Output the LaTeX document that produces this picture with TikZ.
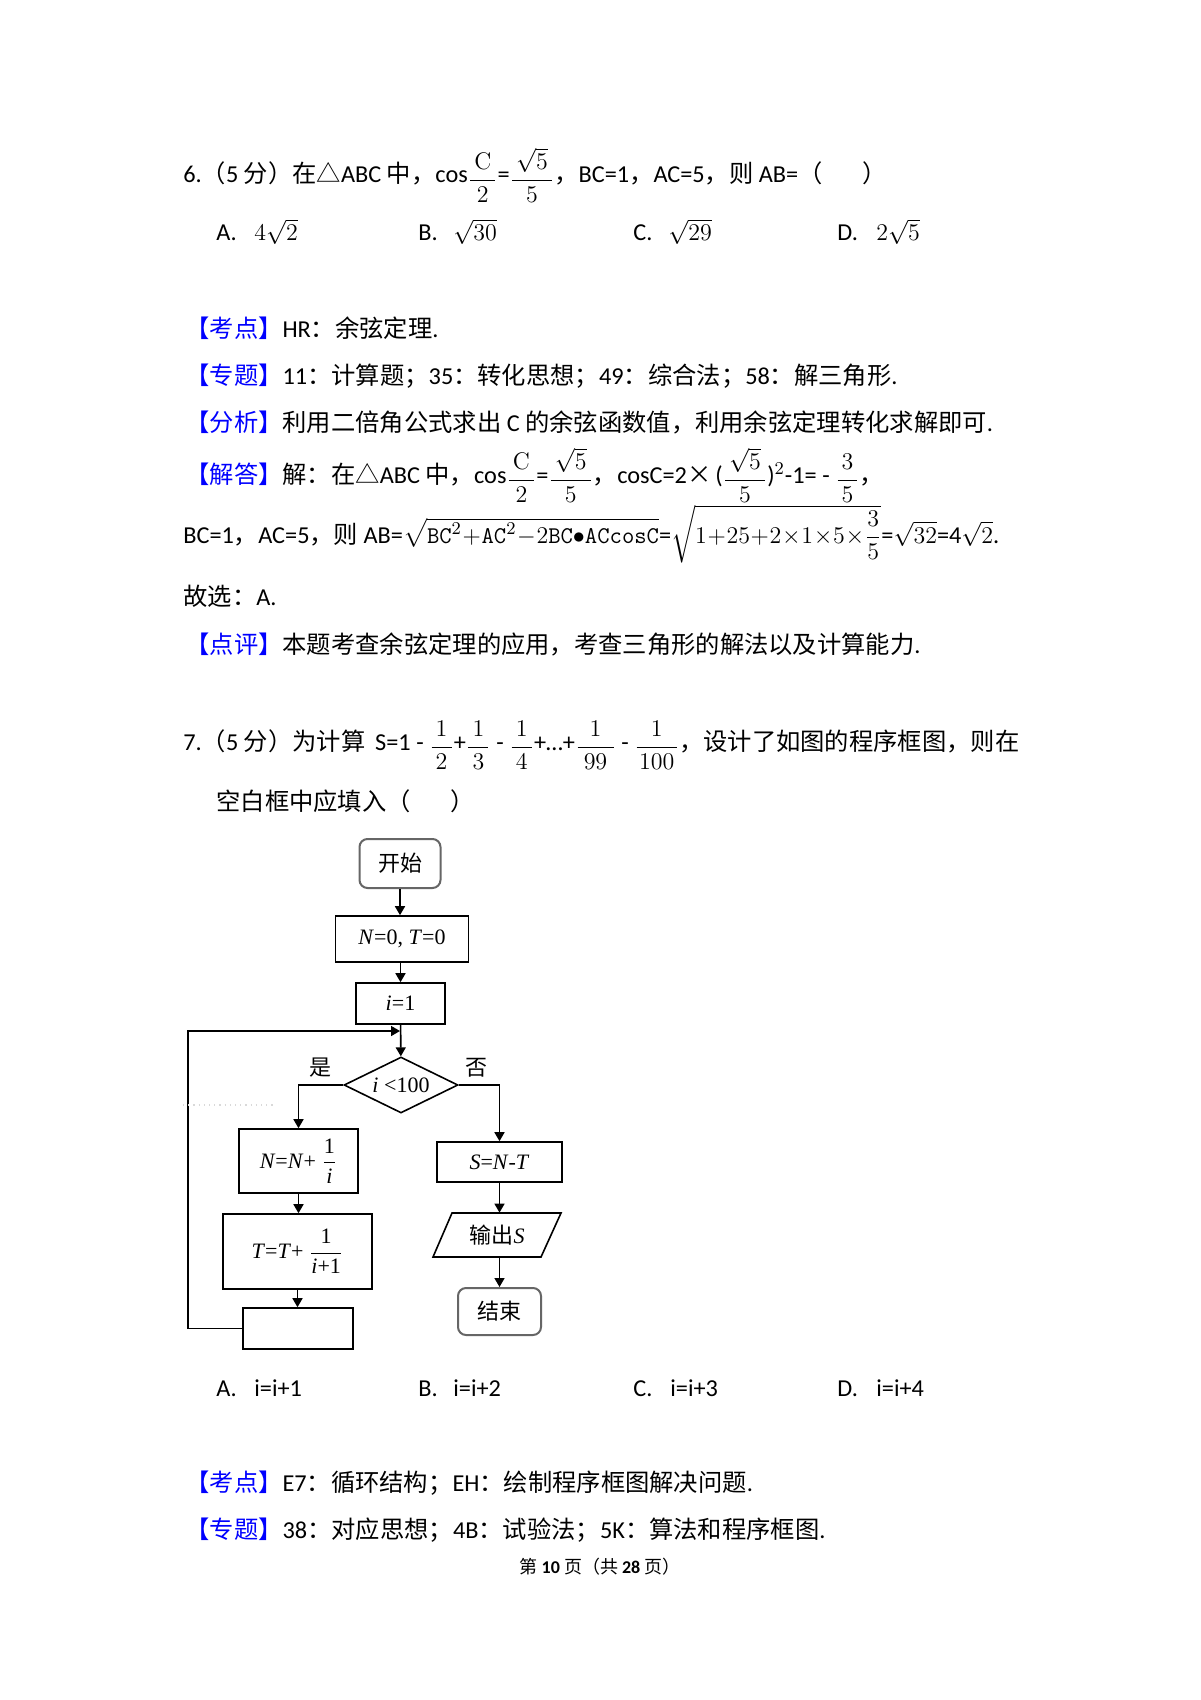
\documentclass[tikz,border=0pt]{standalone}
\usepackage[no-math]{fontspec}
\usepackage{amsmath}
\setmainfont{Carlito}
\newfontfamily\cjk{Noto Sans CJK SC}
\newfontfamily\tms{Liberation Serif}
\usetikzlibrary{arrows.meta,shapes.geometric}
\definecolor{kblue}{RGB}{0,0,255}
\newcommand\z[1]{{\cjk #1}}
\newcommand\hd[1]{\textcolor{kblue}{\z{【#1】}}}
\newcommand\fr[2]{\raisebox{-1.5pt}{$\dfrac{\mkern3mu#1\mkern3mu}{#2}$}}
\newcommand\frb[3]{\raisebox{-1.5pt}{$\dfrac{\makebox[#1]{$#2$}}{#3}$}}
\begin{document}
\begin{tikzpicture}[x=0.5pt,y=-0.5pt,
  txt/.style={anchor=base west,inner sep=0pt,font=\fontsize{12.15}{14.4}\selectfont},
  box/.style={draw,line width=0.8pt,inner sep=1pt,font=\tms\fontsize{11}{13}\selectfont},
  term/.style={draw=black!60,line width=1pt,rounded corners=4pt,inner sep=1pt,font=\cjk\fontsize{11}{13}\selectfont},
  lbl/.style={inner sep=0pt,font=\cjk\fontsize{11}{13}\selectfont},
  arr/.style={line width=0.8pt,-{Triangle[length=4.5pt,width=5pt]}},
  ln/.style={line width=0.8pt}]
\useasboundingbox (0,0) rectangle (1200,1700);
\fill[white] (0,0) rectangle (1200,1700);

% ---------- question 6 ----------
\node[txt] (q6) at (183,183) {6.\z{（}5 \z{分）在△}ABC \z{中，}cos\fr{\mathrm{C}}{2}=\fr{\sqrt{5}}{5}\z{，}BC=1\z{，}AC=5\z{，则} AB=\z{（}\hspace{20pt}\z{）}};
\node[txt] (a6A) at (216,241) {A.};
\node[txt] (a6Av) at (254,241) {$4\sqrt{2}$};
\node[txt] (a6B) at (418,241) {B.};
\node[txt] (a6Bv) at (453,241) {$\sqrt{30}$};
\node[txt] (a6C) at (633,241) {C.};
\node[txt] (a6Cv) at (668,241) {$\sqrt{29}$};
\node[txt] (a6D) at (837,241) {D.};
\node[txt] (a6Dv) at (876,241) {$2\sqrt{5}$};

\node[txt] (kd1) at (185,338) {\hd{考点}HR\z{：余弦定理}.};
\node[txt] (zt1) at (185,385) {\hd{专题}11\z{：计算题；}35\z{：转化思想；}49\z{：综合法；}58\z{：解三角形}.};
\node[txt] (fx1) at (185,431) {\hd{分析}\z{利用二倍角公式求出} C \z{的余弦函数值，利用余弦定理转化求解即可}.};
\node[txt] (jd1) at (185,483) {\hd{解答}\z{解：在△}ABC \z{中，}cos\fr{\mathrm{C}}{2}=\fr{\sqrt{5}}{5}\z{，}cosC=2\z{×}\,(\fr{\sqrt{5}}{5})$^{2}$-1= - \fr{3}{5}\z{，}};
\node[txt] (jd2) at (183,543) {BC=1\z{，}AC=5\z{，则} AB=$\medmuskip=0.5mu\sqrt{\mathtt{BC}^2+\mathtt{AC}^2-2\mathtt{BC}{\bullet}\mathtt{ACcosC}}$=$\medmuskip=0.5mu\sqrt{1+25+2\times1\times5\times\dfrac{3}{5}}$=$\sqrt{32}$=4$\sqrt{2}$.};
\node[txt] (gx) at (183,605) {\z{故选：}A.};
\node[txt] (dp) at (185,653) {\hd{点评}\z{本题考查余弦定理的应用，考查三角形的解法以及计算能力}.};

% ---------- question 7 ----------
\node[txt] (q7) at (183,750) {7.\z{（}5 \z{分）为计算}\hspace{0.4em}S=1 - \frb{10pt}{1}{2}+\frb{10pt}{1}{3} - \frb{10pt}{1}{4}+…+\frb{18pt}{1}{99} - \frb{20pt}{1}{100}\z{，设计了如图的程序框图，则在}};
\node[txt] (q7b) at (216,810) {\z{空白框中应填入（}\hspace{20pt}\z{）}};

% ---------- flowchart ----------
\node[term,minimum width=40.5pt,minimum height=24.5pt] (start) at (400,863.5) {开始};
\node[box,minimum width=66.5pt,minimum height=23pt] (init) at (402,939) {\textit{N}=0, \textit{T}=0};
\node[box,minimum width=44.5pt,minimum height=20.5pt] (ione) at (400.5,1003.5) {\textit{i}=1};
\node[diamond,draw,line width=0.8pt,inner sep=0pt,minimum width=57pt,minimum height=28pt] (cond) at (401,1085) {};
\node[inner sep=0pt,font=\tms\fontsize{11}{13}\selectfont] (condt) at (cond.center) {\textit{i} <100};
\node[lbl] (yes) at (320,1068) {是};
\node[lbl] (no) at (476,1068) {否};
\node[box,minimum width=59.5pt,minimum height=32pt] (upN) at (298.5,1161) {\textit{N}=\textit{N}+ $\dfrac{\text{1}}{\text{\textit{i}}}$};
\node[box,minimum width=74.5pt,minimum height=37.5pt] (upT) at (297.5,1251.5) {\textit{T}=\textit{T}+ $\dfrac{\text{1}}{\text{\textit{i}+1}}$};
\node[box,minimum width=55pt,minimum height=20.5pt] (blank) at (298,1328.5) {};
\node[box,minimum width=62.5pt,minimum height=20pt] (calcS) at (499.5,1162) {\textit{S}=\textit{N}-\textit{T}};
\node[inner sep=0pt,minimum width=45pt,minimum height=22pt,font=\fontsize{11}{13}\selectfont] (outS) at (497,1235) {\z{输出}{\tms\textit{S}}};
\draw[ln] (452,1213) -- (561,1213) -- (541,1257) -- (433,1257) -- cycle;
\node[term,minimum width=41.5pt,minimum height=23.5pt] (stop) at (499.5,1311.5) {结束};

\coordinate (lpL) at (188,1031);
\coordinate (lpJ) at (400,1031);
\draw[arr] (start) -- (start |- init.north);
\draw[arr] (init.south -| ione.north) -- (ione.north);
\draw[arr] (ione) -- (cond);
\draw[arr] (blank.west) -| (lpL) -- (lpJ);
\draw[arr] (cond.west) -| (upN.north);
\draw[arr] (cond.east) -| (calcS.north);
\draw[arr] (upN.south) -- (upN.south |- upT.north);
\draw[arr] (upT.south) -- (upT.south |- blank.north);
\draw[arr] (calcS.south) -- (calcS.south |- outS.north);
\draw[arr] (stop.north |- outS.south) -- (stop.north);
\draw[gray!30,dotted,line width=0.6pt] (183,1105) -- (275,1105);

% ---------- answers 7 ----------
\node[txt] (a7A) at (216,1396) {A.};
\node[txt] (a7Av) at (254,1396) {i=i+1};
\node[txt] (a7B) at (418,1396) {B.};
\node[txt] (a7Bv) at (453,1396) {i=i+2};
\node[txt] (a7C) at (633,1396) {C.};
\node[txt] (a7Cv) at (670,1396) {i=i+3};
\node[txt] (a7D) at (837,1396) {D.};
\node[txt] (a7Dv) at (876,1396) {i=i+4};

\node[txt] (kd2) at (185,1491) {\hd{考点}E7\z{：循环结构；}EH\z{：绘制程序框图解决问题}.};
\node[txt] (zt2) at (185,1538) {\hd{专题}38\z{：对应思想；}4B\z{：试验法；}5K\z{：算法和程序框图}.};
\node[anchor=base,inner sep=0pt,font=\fontsize{9}{11}\selectfont] (ft) at (600,1573) {\z{第} \textbf{10} \z{页（共} \textbf{28} \z{页）}};
\end{tikzpicture}
\end{document}
